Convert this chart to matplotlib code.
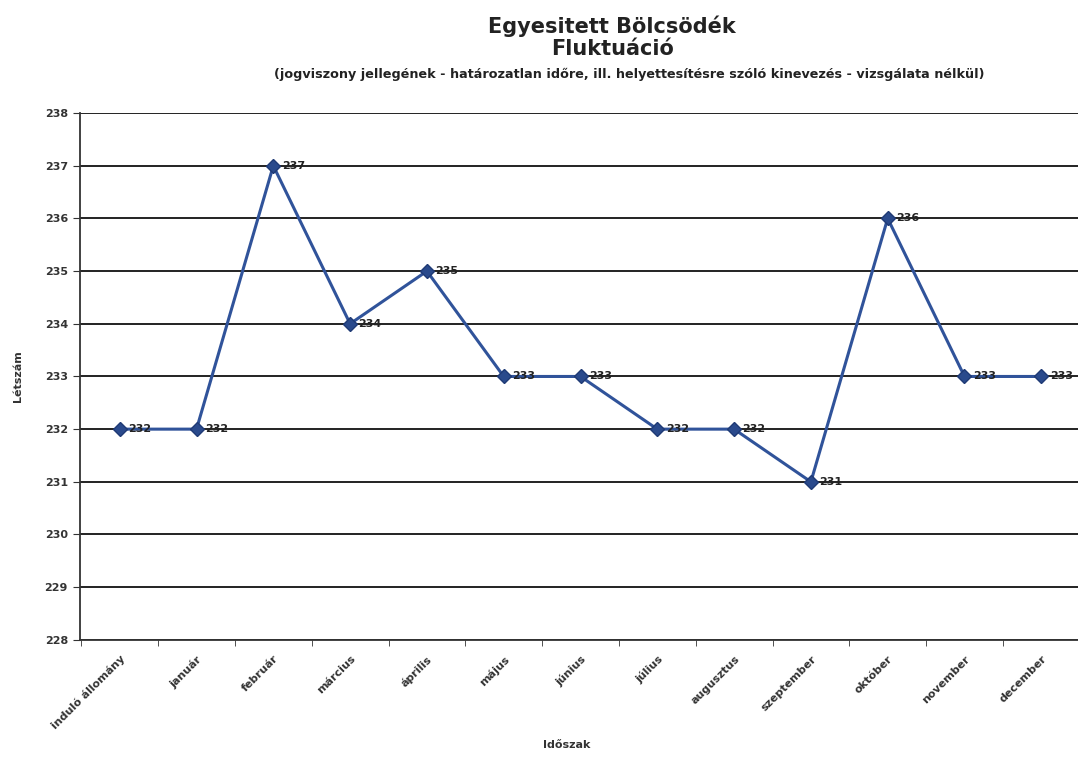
import matplotlib.pyplot as plt
import matplotlib.transforms as mtransforms

# ------------------ ADATOK ------------------
honapok = ['induló állomány', 'január', 'február', 'március', 'április',
           'május', 'június', 'július', 'augusztus', 'szeptember',
           'október', 'november', 'december']
letszam = [232, 232, 237, 234, 235, 233, 233, 232, 232, 231, 236, 233, 233]
y_ticks = list(range(228, 239))

plt.rcParams['font.family'] = ['DejaVu Sans']
plt.rcParams['font.weight'] = 'bold'

fig = plt.figure(figsize=(10.78, 7.59), dpi=100)
ax = fig.add_axes([0.074, 0.157, 0.929, 0.694])

x = list(range(len(honapok)))
ax.plot(x, letszam, color='#30539a', linewidth=2.2, marker='D',
        markersize=7, markerfacecolor='#2a4a8c', markeredgecolor='#1f3a75',
        zorder=3)

# értékcímkék a pontok mellett
for xi, v in zip(x, letszam):
    ax.annotate(str(v), (xi, v), xytext=(6, 0), textcoords='offset points',
                va='center', ha='left', fontsize=8, color='#222222',
                annotation_clip=False)

ax.set_xlim(-0.52, len(honapok) - 0.48)
ax.set_ylim(228, 238)
ax.set_yticks(y_ticks)
ax.set_yticklabels([str(t) for t in y_ticks], fontsize=8, color='#333333')
ax.yaxis.grid(True, color='#111111', linewidth=1.3)
ax.set_axisbelow(True)

ax.set_xticks(x)
ax.set_xticklabels(honapok, rotation=45, ha='right', rotation_mode='anchor',
                   fontsize=8, color='#333333')
# címkék kicsit balra tolva, mint az eredetin
offset = mtransforms.ScaledTranslation(-6 / 72, 0, fig.dpi_scale_trans)
for lbl in ax.get_xticklabels():
    lbl.set_transform(lbl.get_transform() + offset)
ax.set_xticks([i - 0.5 for i in range(len(honapok) + 1)], minor=True)
ax.tick_params(axis='x', which='major', length=0, pad=10)
ax.tick_params(axis='x', which='minor', length=4, color='#333333')
ax.tick_params(axis='y', length=5, direction='out', color='#333333')

for side in ['top', 'right']:
    ax.spines[side].set_visible(False)
ax.spines['left'].set_color('#333333')
ax.spines['bottom'].set_color('#333333')
ax.spines['left'].set_linewidth(1.3)
ax.spines['bottom'].set_linewidth(1.3)

fig.text(0.017, 0.505, 'Létszám', rotation=90, ha='center', va='center',
         fontsize=8, color='#333333')
fig.text(0.526, 0.018, 'Időszak', ha='center', va='center',
         fontsize=8, color='#333333')

fig.text(0.568, 0.966, 'Egyesitett Bölcsödék', ha='center', va='center',
         fontsize=15, color='#222222')
fig.text(0.568, 0.935, 'Fluktuáció', ha='center', va='center',
         fontsize=15, color='#222222')
fig.text(0.584, 0.902,
         '(jogviszony jellegének - határozatlan időre, ill. helyettesítésre '
         'szóló kinevezés - vizsgálata nélkül)',
         ha='center', va='center', fontsize=9.2, color='#222222')

fig.savefig('out.png', dpi=100)
